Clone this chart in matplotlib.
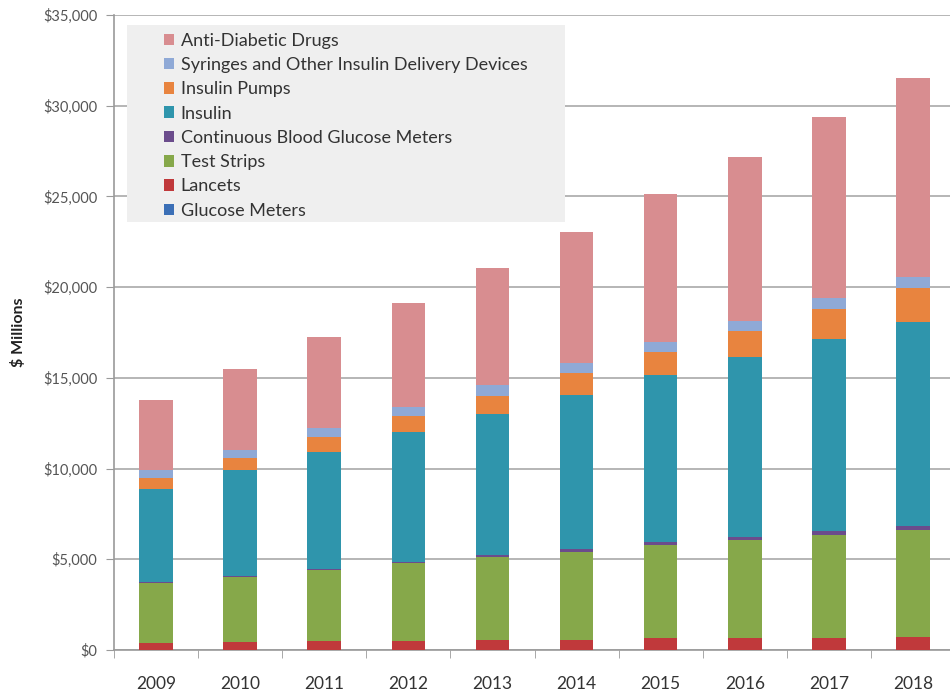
import matplotlib
matplotlib.use("Agg")
import matplotlib.pyplot as plt
from matplotlib.patches import Rectangle
import numpy as np
from matplotlib.ticker import FuncFormatter

years = ["2009", "2010", "2011", "2012", "2013", "2014", "2015", "2016", "2017", "2018"]
glucose_meters = [0, 0, 0, 0, 0, 0, 0, 0, 0, 0]
lancets = [400, 420, 500, 500, 550, 550, 660, 660, 660, 720]
test_strips = [3290, 3600, 3910, 4290, 4570, 4850, 5130, 5400, 5680, 5890]
cgm = [40, 60, 60, 80, 110, 170, 170, 180, 220, 230]
insulin = [5140, 5840, 6440, 7140, 7770, 8480, 9190, 9910, 10580, 11230]
insulin_pumps = [610, 660, 830, 890, 1000, 1210, 1270, 1430, 1650, 1880]
syringes = [440, 440, 490, 490, 600, 550, 550, 550, 610, 610]
anti_diabetic = [3860, 4460, 5020, 5730, 6450, 7230, 8160, 9030, 9970, 10960]

series = [
    ("Glucose Meters", glucose_meters, "#3b6fb6"),
    ("Lancets", lancets, "#c0393b"),
    ("Test Strips", test_strips, "#86a84a"),
    ("Continuous Blood Glucose Meters", cgm, "#6b4c8c"),
    ("Insulin", insulin, "#2f95ac"),
    ("Insulin Pumps", insulin_pumps, "#e8843f"),
    ("Syringes and Other Insulin Delivery Devices", syringes, "#8fa9d6"),
    ("Anti-Diabetic Drugs", anti_diabetic, "#d88d90"),
]

plt.rcParams['font.family'] = ['Lato', 'DejaVu Sans']

fig = plt.figure(figsize=(9.5, 6.93), dpi=100)
W, H = 950, 693
left, right_px, top_px, bot_px = 114, 955, 15, 650
ax = fig.add_axes([left / W, 1 - bot_px / H, (right_px - left) / W, (bot_px - top_px) / H])

x = np.arange(len(years))
bottom = np.zeros(len(years))
handles = []
for name, vals, col in series:
    v = np.array(vals, dtype=float)
    b = ax.bar(x, v, width=0.4, bottom=bottom, color=col, label=name, zorder=3, linewidth=0)
    handles.append(b)
    bottom += v

ax.set_xlim(-0.5, len(years) - 0.5)
ax.set_ylim(0, 35000)
ax.set_yticks(np.arange(0, 35001, 5000))
ax.yaxis.set_major_formatter(FuncFormatter(lambda v, p: "${:,.0f}".format(v)))
ax.grid(axis='y', color='#b0b0b0', linewidth=1.3, zorder=0)
ax.set_axisbelow(True)

for s in ['top', 'right']:
    ax.spines[s].set_visible(False)
ax.spines['left'].set_color('#9a9a9a')
ax.spines['bottom'].set_color('#9a9a9a')
ax.spines['left'].set_linewidth(1.2)
ax.spines['bottom'].set_linewidth(1.2)

ax.set_xticks(x)
ax.set_xticklabels(years, fontsize=12.5, color='#333333')
ax.tick_params(axis='x', length=0, pad=19)
ax.set_xticks(np.arange(-0.5, len(years), 1), minor=True)
ax.tick_params(axis='x', which='minor', length=6, color='#9a9a9a', direction='out')
ax.tick_params(axis='y', length=6, color='#9a9a9a', labelsize=10.5, labelcolor='#555555', pad=6)

ax.set_ylabel("$ Millions", fontsize=11.5, fontweight='bold', color='#222222', labelpad=12)

# legend background panel
fig.patches.append(Rectangle((127 / W, 1 - 222 / H), (565 - 127) / W, (222 - 25) / H,
                             transform=fig.transFigure, facecolor='#efefef',
                             edgecolor='none', zorder=5))
leg = fig.legend(handles[::-1], [s[0] for s in series][::-1],
                 loc='upper left', bbox_to_anchor=(160 / W, 1 - 29 / H),
                 borderaxespad=0, frameon=False,
                 fontsize=13, handlelength=0.6, handleheight=0.6, handletextpad=0.35,
                 labelspacing=0.46, borderpad=0.2, labelcolor='#333333')
leg.set_zorder(6)

fig.savefig("out.png", dpi=100)
